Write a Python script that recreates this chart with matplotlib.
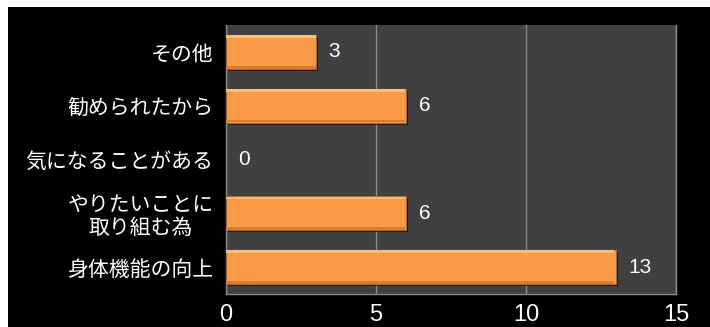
import matplotlib.pyplot as plt
import matplotlib.patches as mpatches
import matplotlib.patheffects as pe

plt.rcParams['font.family'] = ['Noto Sans CJK JP', 'DejaVu Sans']

# reasons, bottom to top
labels = ['身体機能の向上', 'やりたいことに\n取り組む為', '気になることがある', '勧められたから', 'その他']
counts = [13, 6, 0, 6, 3]
xticks = [0, 5, 10, 15]

fig = plt.figure(figsize=(7.1, 3.27), dpi=100)
fig.patch.set_facecolor('white')
# black panel behind the chart
fig.patches.append(mpatches.Rectangle((8 / 710, 0), 1, 1 - 7 / 327, transform=fig.transFigure,
                                      facecolor='black', edgecolor='none', zorder=-10))

ax = fig.add_axes([226 / 710, 1 - 294 / 327, 450 / 710, 269 / 327])
ax.set_facecolor('#404040')

pos = range(len(labels))
bars = ax.barh(pos, counts, height=0.63, color='#F99B48', edgecolor='#B0652A', linewidth=0.8, zorder=3)
for b in bars:
    x0, y0 = b.get_x(), b.get_y()
    w, h = b.get_width(), b.get_height()
    if w == 0:
        b.set_visible(False)
        continue
    b.set_path_effects([pe.SimplePatchShadow(offset=(1.5, -1.5), shadow_rgbFace='black', alpha=0.6),
                        pe.Normal()])
    # soft bevel: lighter top strip, darker bottom strip
    ax.barh(y0 + h * 0.95, w * 0.995, height=h * 0.08, left=x0, align='center',
            color='#FBBE80', edgecolor='none', zorder=4)
    ax.barh(y0 + h * 0.05, w * 0.995, height=h * 0.08, left=x0, align='center',
            color='#D97C32', edgecolor='none', zorder=4)

for y, v in zip(pos, counts):
    ax.annotate(str(v), (v, y), xytext=(9, 0), textcoords='offset points',
                va='center', ha='left', color='white', fontsize=15, family='Liberation Sans')

ax.set_xlim(0, 15)
ax.set_ylim(-0.5, len(labels) - 0.5)
ax.set_xticks(xticks)
ax.set_xticklabels([str(t) for t in xticks], color='white', fontsize=17, family='Liberation Sans')
ax.set_yticks(list(pos))
ax.set_yticklabels(labels, color='white', fontsize=15, linespacing=1.05)
for t in ax.get_yticklabels():
    t.set_multialignment('center')
ax.tick_params(length=0, pad=9)
ax.tick_params(axis='x', pad=7)

ax.grid(axis='x', color='#8a8a8a', linewidth=1.0, zorder=1)
for s in ax.spines.values():
    s.set_color('#8a8a8a')
    s.set_linewidth(1.0)
ax.spines['top'].set_visible(False)

fig.savefig('out.png', dpi=100, facecolor=fig.get_facecolor())
